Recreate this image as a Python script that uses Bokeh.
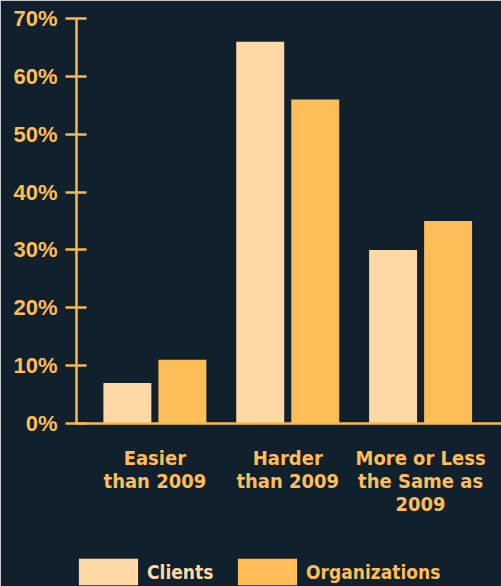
from bokeh.plotting import figure
from bokeh.models import (ColumnDataSource, Range1d, FixedTicker, PrintfTickFormatter,
                          Span, Legend, LegendItem)
from bokeh.transform import dodge
from bokeh.core.properties import value
from bokeh.embed import file_html
from bokeh.resources import INLINE

categories = ["Easier\nthan 2009", "Harder\nthan 2009", "More or Less\nthe Same as\n2009"]
clients = [7, 66, 30]
organizations = [11, 56, 35]
y_ticks = [0, 10, 20, 30, 40, 50, 60, 70]

BG = "#10202c"
ORANGE = "#fdbd57"
PEACH = "#fed9a6"
AXIS = "#f7b94f"
COND = "DejaVu Sans Condensed"

src = ColumnDataSource(dict(x=list(range(len(categories))), cat=categories,
                            clients=clients, orgs=organizations))

p = figure(width=501, height=586, output_backend="svg", toolbar_location=None,
           x_range=Range1d(-0.590, 2.609), y_range=Range1d(-28.17, 70),
           x_axis_location=None, min_border_left=76, min_border_right=0,
           min_border_top=18, min_border_bottom=0)
p.background_fill_color = BG
p.border_fill_color = BG
p.outline_line_color = BG
p.outline_line_width = 2
p.grid.visible = False

r1 = p.vbar(x=dodge("x", -0.207), top="clients", width=0.361, source=src,
            fill_color=PEACH, line_color=None)
r2 = p.vbar(x=dodge("x", 0.207), top="orgs", width=0.361, source=src,
            fill_color=ORANGE, line_color=None)

p.add_layout(Span(location=0, dimension="width", line_color=AXIS, line_width=2.5))

p.text(x="x", y=-3.9, text="cat", source=src, text_align="center", text_baseline="top",
       text_font=value(COND), text_font_style="bold", text_font_size="20px",
       text_color=ORANGE, text_line_height=0.95)

ya = p.yaxis[0]
ya.bounds = (0, 70)
ya.ticker = FixedTicker(ticks=y_ticks)
ya.formatter = PrintfTickFormatter(format="%d%%")
ya.axis_line_color = AXIS
ya.axis_line_width = 2.5
ya.major_tick_line_color = AXIS
ya.major_tick_line_width = 2.5
ya.major_tick_in = 10
ya.major_tick_out = 11
ya.minor_tick_line_color = None
ya.major_label_standoff = 8
ya.major_label_text_font = "Liberation Sans"
ya.major_label_text_font_style = "bold"
ya.major_label_text_font_size = "22px"
ya.major_label_text_color = ORANGE

for renderer, label, color, loc in [(r1, "Clients", PEACH, (-5, -2)),
                                   (r2, "Organizations", ORANGE, (154, -2))]:
    lg = Legend(items=[LegendItem(label=label, renderers=[renderer])], location=loc,
                glyph_width=74, glyph_height=33, label_standoff=2, padding=0, margin=0,
                border_line_color=None, background_fill_alpha=0,
                label_text_font=COND, label_text_font_style="bold",
                label_text_font_size="19px", label_text_color=color,
                label_height=33)
    p.add_layout(lg, "center")

html = file_html(p, INLINE)
html = html.replace("<body>", '<body style="background-color:%s;">' % BG, 1)
open("out.html", "w").write(html)
